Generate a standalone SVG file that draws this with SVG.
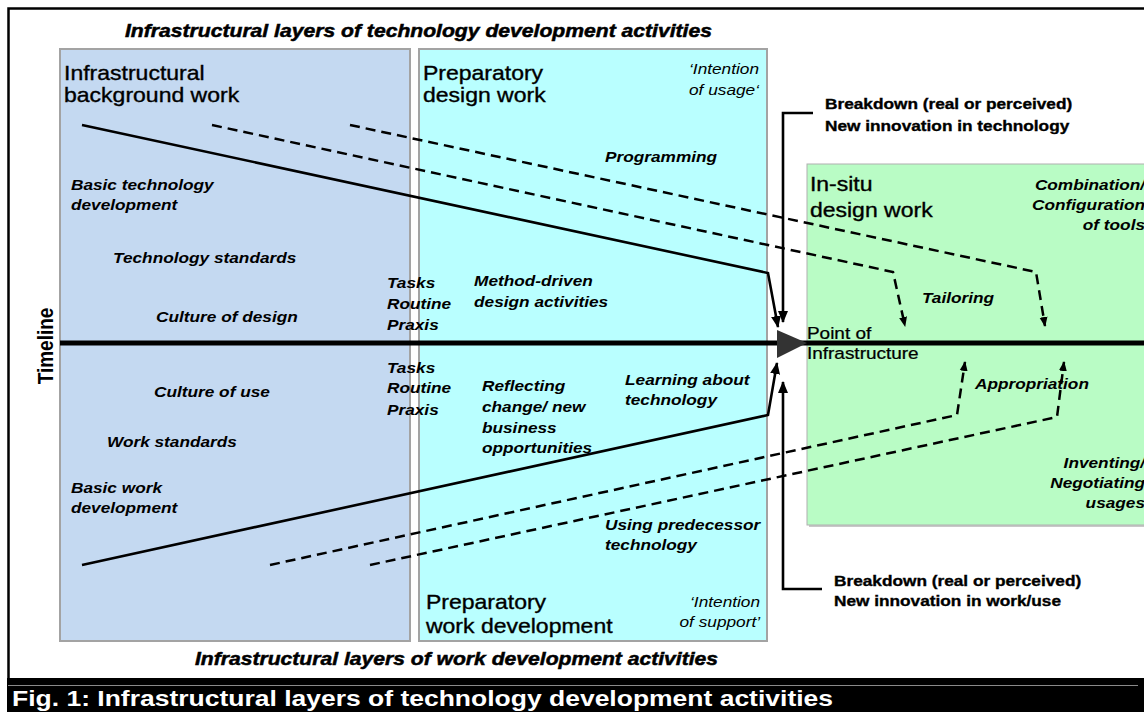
<svg xmlns="http://www.w3.org/2000/svg" width="1144" height="712" viewBox="0 0 1144 712">
<style>
  text { font-family: "Liberation Sans", Arial, sans-serif; fill: #000; }
  .ttl { font-size: 20px; stroke: #000; stroke-width: 0.35; }
  .pt { font-size: 16.5px; stroke: #000; stroke-width: 0.25; }
  .lbl { font-size: 15px; font-weight: bold; font-style: italic; }
  .it { font-size: 15px; font-style: italic; }
  .brk { font-size: 15px; font-weight: bold; stroke: #000; stroke-width: 0.35; }
  .head { font-size: 18px; font-weight: bold; font-style: italic; stroke: #000; stroke-width: 0.5; }
  .cap { font-size: 22px; font-weight: bold; fill: #fff; }
  .box { stroke: #a3a3a3; stroke-width: 2; }
  .solid { fill: none; stroke: #000; stroke-width: 2.6; }
  .dash { fill: none; stroke: #000; stroke-width: 2.5; stroke-dasharray: 10 6; }
</style>
<defs>
  <marker id="ah" markerUnits="userSpaceOnUse" markerWidth="12" markerHeight="12" viewBox="0 0 12 12" refX="11" refY="6" orient="auto">
    <path d="M0,1 L12,6 L0,11 Z" fill="#000"/>
  </marker>
  <marker id="ahs" markerUnits="userSpaceOnUse" markerWidth="10" markerHeight="10" viewBox="0 0 10 10" refX="9" refY="5" orient="auto">
    <path d="M0,1 L10,5 L0,9 Z" fill="#000"/>
  </marker>
</defs>
<rect x="0" y="0" width="1144" height="712" fill="#fff"/>
<!-- frame -->
<g id="frame">
  <path d="M8.5,678 V8.5 H1144" fill="none" stroke="#000" stroke-width="2.5"/>
  <rect x="7" y="678" width="1137" height="34" fill="#000"/>
  <line x1="8" y1="685.5" x2="1138" y2="685.5" stroke="#8a8a8a" stroke-width="1"/>
</g>
<g id="headings">
  <text class="head" x="125" y="37" textLength="587" lengthAdjust="spacingAndGlyphs">Infrastructural layers of technology development activities</text>
  <text class="head" x="195" y="665" textLength="523" lengthAdjust="spacingAndGlyphs">Infrastructural layers of work development activities</text>
  <text class="cap" x="12" y="706" textLength="821" lengthAdjust="spacingAndGlyphs">Fig. 1:  Infrastructural layers of technology development activities</text>
  <text transform="translate(53,346) scale(1.15,1) rotate(-90)" text-anchor="middle" style="font-size:19px;font-weight:bold">Timeline</text>
</g>
<!-- boxes -->
<g id="background-work">
  <rect class="box" x="60" y="49" width="350" height="592" fill="#c4d9f1"/>
  <g transform="scale(1.15,1)">
    <text class="ttl" x="55.7" y="80">Infrastructural</text>
    <text class="ttl" x="55.7" y="102">background work</text>
    <text class="lbl" x="61.7" y="190">Basic technology</text>
    <text class="lbl" x="61.7" y="210">development</text>
    <text class="lbl" x="98.3" y="263">Technology standards</text>
    <text class="lbl" x="135.7" y="322">Culture of design</text>
    <text class="lbl" x="133.9" y="397">Culture of use</text>
    <text class="lbl" x="93" y="447">Work standards</text>
    <text class="lbl" x="61.7" y="493">Basic work</text>
    <text class="lbl" x="61.7" y="513">development</text>
  </g>
</g>
<g id="preparatory">
  <rect class="box" x="419" y="49" width="348" height="592" fill="#b9ffff"/>
  <g transform="scale(1.15,1)">
    <text class="ttl" x="367.8" y="80">Preparatory</text>
    <text class="ttl" x="367.8" y="102">design work</text>
    <text class="it" x="660" y="74" text-anchor="end">‘Intention</text>
    <text class="it" x="660" y="95" text-anchor="end">of usage‘</text>
    <text class="lbl" x="526.1" y="162">Programming</text>
    <text class="lbl" x="412.2" y="286">Method-driven</text>
    <text class="lbl" x="412.2" y="307">design activities</text>
    <text class="lbl" x="419.1" y="391">Reflecting</text>
    <text class="lbl" x="419.1" y="412">change/ new</text>
    <text class="lbl" x="419.1" y="433">business</text>
    <text class="lbl" x="419.1" y="453">opportunities</text>
    <text class="lbl" x="543.5" y="385">Learning about</text>
    <text class="lbl" x="543.5" y="405">technology</text>
    <text class="lbl" x="526.1" y="530">Using predecessor</text>
    <text class="lbl" x="526.1" y="550">technology</text>
    <text class="ttl" x="370.4" y="609">Preparatory</text>
    <text class="ttl" x="370.4" y="633">work development</text>
    <text class="it" x="660.9" y="607" text-anchor="end">‘Intention</text>
    <text class="it" x="660.9" y="627" text-anchor="end">of support’</text>
  </g>
</g>
<g id="tasks">
  <g transform="scale(1.15,1)">
    <text class="lbl" x="336.5" y="288">Tasks</text>
    <text class="lbl" x="336.5" y="309">Routine</text>
    <text class="lbl" x="336.5" y="330">Praxis</text>
    <text class="lbl" x="336.5" y="373">Tasks</text>
    <text class="lbl" x="336.5" y="393">Routine</text>
    <text class="lbl" x="336.5" y="415">Praxis</text>
  </g>
</g>
<g id="in-situ">
  <rect x="809" y="166" width="345" height="361" fill="#c8c8c8"/>
  <rect x="807" y="164" width="345" height="361" fill="#b9fcc5" stroke="#b0b0b0" stroke-width="1"/>
  <g transform="scale(1.15,1)">
    <text class="ttl" x="704.3" y="191">In-situ</text>
    <text class="ttl" x="704.3" y="217">design work</text>
    <text class="lbl" x="995.7" y="190" text-anchor="end">Combination/</text>
    <text class="lbl" x="995.7" y="210" text-anchor="end">Configuration</text>
    <text class="lbl" x="995.7" y="230" text-anchor="end">of tools</text>
    <text class="lbl" x="801.7" y="303">Tailoring</text>
    <text class="lbl" x="847.8" y="389">Appropriation</text>
    <text class="lbl" x="995.7" y="468" text-anchor="end">Inventing/</text>
    <text class="lbl" x="995.7" y="488" text-anchor="end">Negotiating</text>
    <text class="lbl" x="995.7" y="508" text-anchor="end">usages</text>
  </g>
</g>
<!-- connectors -->
<g id="connectors">
  <line x1="60" y1="343" x2="1144" y2="343" stroke="#000" stroke-width="5"/>
  <path class="solid" d="M82,125 L768,273 L778,327" marker-end="url(#ah)"/>
  <path class="solid" d="M82,565 L768,415 L777,363" marker-end="url(#ah)"/>
  <path class="solid" d="M813,113 H783 V322" marker-end="url(#ah)"/>
  <path class="solid" d="M822,589 H783 V382" marker-end="url(#ah)"/>
  <path class="dash" d="M350,125 L1036,272 L1045,326" marker-end="url(#ahs)"/>
  <path class="dash" d="M212,125 L893,272 L905,326" marker-end="url(#ahs)"/>
  <path class="dash" d="M270,565 L957,415 L965,362" marker-end="url(#ahs)"/>
  <path class="dash" d="M370,565 L1057,417 L1064,362" marker-end="url(#ahs)"/>
</g>
<g id="point-of-infrastructure">
  <polygon points="777,330 807,343 777,358" fill="#333"/>
  <g transform="scale(1.15,1)">
    <text class="pt" x="701.7" y="339">Point of</text>
    <text class="pt" x="701.7" y="359">Infrastructure</text>
  </g>
</g>
<g id="breakdowns">
  <g transform="scale(1.15,1)">
    <text class="brk" x="717.4" y="109">Breakdown (real or perceived)</text>
    <text class="brk" x="717.4" y="131">New innovation in technology</text>
    <text class="brk" x="725.2" y="586">Breakdown (real or perceived)</text>
    <text class="brk" x="725.2" y="606">New innovation in work/use</text>
  </g>
</g>
</svg>
